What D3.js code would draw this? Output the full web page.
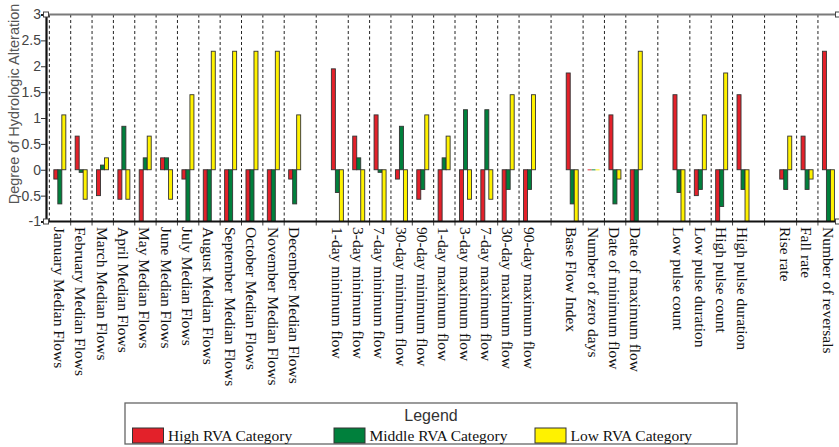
<!DOCTYPE html>
<html>
<head>
<meta charset="utf-8">
<script src="https://cdn.jsdelivr.net/npm/d3@7"></script>
<style>
  html, body { margin: 0; padding: 0; background: #fff; }
  svg { display: block; }
</style>
</head>
<body>
<svg id="chart" width="839" height="447"></svg>
<script>
// Hydrologic alteration of the IHA parameters, by RVA category
const categories = [
  "January Median Flows", "February Median Flows", "March Median Flows", "April Median Flows",
  "May Median Flows", "June Median Flows", "July Median Flows", "August Median Flows",
  "September Median Flows", "October Median Flows", "November Median Flows", "December Median Flows",
  "1-day minimum flow", "3-day minimum flow", "7-day minimum flow", "30-day minimum flow",
  "90-day minimum flow", "1-day maximum flow", "3-day maximum flow", "7-day maximum flow",
  "30-day maximum flow", "90-day maximum flow", "Base Flow Index", "Number of zero days",
  "Date of minimum flow", "Date of maximum flow",
  "Low pulse count", "Low pulse duration", "High pulse count", "High pulse duration",
  "Rise rate", "Fall rate", "Number of reversals"
];
// number of parameters in each IHA group (a blank slot separates groups)
const groupSizes = [12, 10, 4, 4, 3];

const highRVA = [
  -0.18, 0.65, -0.5, -0.57, -1, 0.23, -0.18, -1, -1, -1, -1, -0.18,
  1.95, 0.65, 1.06, -0.18, -0.57, -1, -1, -1, -1, -1, 1.87, 0,
  1.06, -1,
  1.45, -0.5, -1, 1.45,
  -0.18, 0.65, 2.29
];
const middleRVA = [
  -0.66, -0.05, 0.09, 0.84, 0.23, 0.23, -1, -1, -1, -1, -1, -0.66,
  -0.44, 0.23, -0.05, 0.84, -0.38, 0.23, 1.16, 1.16, -0.38, -0.38, -0.66, 0,
  -0.66, -1,
  -0.44, -0.38, -0.71, -0.38,
  -0.38, -0.38, -1
];
const lowRVA = [
  1.06, -0.57, 0.23, -0.57, 0.65, -0.57, 1.45, 2.29, 2.29, 2.29, 2.29, 1.06,
  -1, -1, -1, -1, 1.06, 0.65, -0.57, -0.57, 1.45, 1.45, -1, 0,
  -0.18, 2.29,
  -1, 1.06, 1.87, -1,
  0.65, -0.18, -1
];
const seriesNames = ["High RVA Category", "Middle RVA Category", "Low RVA Category"];
const seriesColors = ["#e3212a", "#00803c", "#fff200"];
const yTicks = [-1, -0.5, 0, 0.5, 1, 1.5, 2, 2.5, 3];

const svg = d3.select("#chart");

// slot list: parameters with a blank slot between groups
const slots = [];
{
  let k = 0;
  groupSizes.forEach((n, g) => {
    if (g > 0) slots.push("__gap" + g);
    for (let i = 0; i < n; i++) slots.push(categories[k++]);
  });
}
const isGap = s => s.startsWith("__gap");

const x = d3.scaleBand().domain(slots).range([49.35, 839.3]).padding(0);
const bw = x.bandwidth();
const y = d3.scaleLinear().domain([-1, 3]).range([221.5, 14.5]);
const inner = d3.scaleBand().domain([0, 1, 2]).range([-6.2, 5.8]).padding(0);

const axisX = 46, xEnd = 838;
const yTop = y(3), yBottom = y(-1);

// dashed separators
const sepX = [];
slots.forEach((s, i) => {
  if (isGap(s)) sepX.push(x(s) + bw / 2);
  else if (i === 0 || !isGap(slots[i - 1])) sepX.push(x(s));
});
svg.append("g").selectAll("line").data(sepX).join("line")
  .attr("x1", d => d).attr("x2", d => d)
  .attr("y1", yTop).attr("y2", yBottom)
  .attr("stroke", "#222").attr("stroke-width", 1)
  .attr("stroke-dasharray", "3,2.5");

// small tick marks under the category axis
svg.append("g").selectAll("line").data(sepX.slice(1)).join("line")
  .attr("x1", d => d).attr("x2", d => d)
  .attr("y1", yBottom).attr("y2", yBottom + 4)
  .attr("stroke", "#444").attr("stroke-width", 1);

// bars
const series = [highRVA, middleRVA, lowRVA];
const barData = [];
categories.forEach((c, i) => {
  series.forEach((vals, j) => barData.push({ cat: c, s: j, v: vals[i] }));
});
svg.append("g").selectAll("rect").data(barData).join("rect")
  .each(function (d) {
    let y0 = Math.min(y(d.v), y(0));
    let h = Math.abs(y(d.v) - y(0));
    const flat = h < 1;
    if (flat) { h = 1.5; y0 = y(0) - 0.75; }
    d3.select(this)
      .attr("x", x(d.cat) + bw / 2 + inner(d.s))
      .attr("y", y0)
      .attr("width", inner.bandwidth())
      .attr("height", h)
      .attr("fill", seriesColors[d.s])
      .attr("opacity", flat ? 0.6 : 1)
      .attr("stroke", flat ? "none" : "#333")
      .attr("stroke-width", 0.9);
  });

// frame: grey top edge, black bottom and left axes
svg.append("line").attr("x1", axisX).attr("x2", xEnd).attr("y1", yTop).attr("y2", yTop)
  .attr("stroke", "#7a7a7a").attr("stroke-width", 2);
svg.append("line").attr("x1", axisX).attr("x2", xEnd).attr("y1", yBottom).attr("y2", yBottom)
  .attr("stroke", "#111").attr("stroke-width", 2);

// value axis
const yAxis = d3.axisLeft(y).tickValues(yTicks).tickFormat(d => String(d))
  .tickSize(5).tickPadding(0);
const gy = svg.append("g").attr("transform", `translate(${axisX},0)`).call(yAxis);
gy.select(".domain").attr("stroke", "#111").attr("stroke-width", 2.2);
gy.selectAll(".tick line").attr("stroke", "#333");
gy.selectAll(".tick text")
  .attr("font-family", "Liberation Sans, Arial, sans-serif")
  .attr("font-size", 14).attr("fill", "#444");

// end markers
const corners = [[axisX, yTop], [axisX, yBottom], [xEnd, yTop], [xEnd, yBottom]];
svg.append("g").selectAll("rect").data(corners).join("rect")
  .attr("x", d => d[0] - 2.5).attr("y", d => d[1] - 2.5)
  .attr("width", 5).attr("height", 5)
  .attr("fill", "#fff").attr("stroke", "#444").attr("stroke-width", 1);

// value axis title
svg.append("text")
  .attr("transform", `translate(19,104) rotate(-90)`)
  .attr("text-anchor", "middle")
  .attr("font-family", "Liberation Sans, Arial, sans-serif")
  .attr("font-size", 14.5).attr("fill", "#555")
  .text("Degree of Hydrologic Alteration");

// category labels, rotated
svg.append("g").selectAll("text").data(categories).join("text")
  .attr("transform", d => `translate(${x(d) + bw / 2 - 6},227) rotate(90)`)
  .attr("font-family", "Liberation Serif, 'Times New Roman', serif")
  .attr("font-size", 15.5).attr("fill", "#111")
  .text(d => d);

// legend
const lg = svg.append("g");
lg.append("rect").attr("x", 125).attr("y", 403).attr("width", 612).attr("height", 41)
  .attr("fill", "#fff").attr("stroke", "#666").attr("stroke-width", 1.3);
lg.append("text").attr("x", 431).attr("y", 421).attr("text-anchor", "middle")
  .attr("font-family", "Liberation Sans, Arial, sans-serif")
  .attr("font-size", 16).attr("fill", "#333").text("Legend");
const legendX = [132.5, 334, 535];
const items = lg.selectAll("g.item").data(seriesNames).join("g").attr("class", "item")
  .attr("transform", (d, i) => `translate(${legendX[i]},0)`);
items.append("rect").attr("x", 0).attr("y", 428).attr("width", 31).attr("height", 15)
  .attr("fill", (d, i) => seriesColors[i]).attr("stroke", "#333").attr("stroke-width", 1);
items.append("text").attr("x", 35.5).attr("y", 441)
  .attr("font-family", "Liberation Serif, 'Times New Roman', serif")
  .attr("font-size", 15.5).attr("fill", "#111")
  .text(d => d);
</script>
</body>
</html>
